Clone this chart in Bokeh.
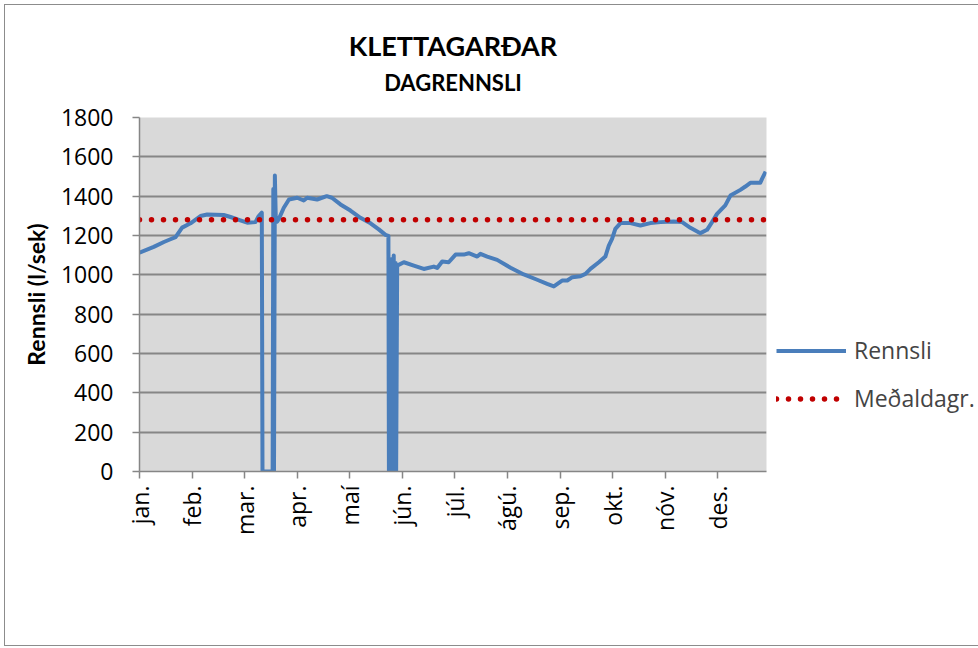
import math
from bokeh.plotting import figure
from bokeh.models import (ColumnDataSource, FixedTicker, Legend, LegendItem, Title)
from bokeh.embed import file_html
from bokeh.resources import INLINE

# ---- data ----
months = ["jan.", "feb.", "mar.", "apr.", "maí", "jún.", "júl.", "ágú.", "sep.", "okt.", "nóv.", "des."]
month_start_day = [0, 30.6, 61.2, 91.8, 122.4, 153.0, 183.6, 214.2, 244.8, 275.4, 306.0, 336.6]

day = [0, 8.3, 14.2, 18, 21, 24.8, 29.7, 35.5, 39.4, 49, 53, 58.7, 62.7, 67.5, 69.4, 71.2,
       71.6, 77.5, 77.9, 78.3, 78.8, 79.3, 80.1, 81, 84, 87, 91.8, 95.6, 97.6, 103.4, 109,
       112, 117, 122.8, 128.6, 134.5, 139.3, 143.2, 144.9, 145.2, 145.8, 146.3, 146.9,
       147.4, 148.0, 148.5, 149.1, 149.4, 150, 153.9, 159.7, 165.5, 171.3, 173.3, 176.2,
       180, 184, 188.8, 191.7, 196.6, 198.5, 202.4, 208.2, 216, 223.7, 231.5, 237.3, 241.2,
       246, 249, 252, 256.7, 259.6, 262.5, 267.4, 271.2, 273.2, 275.1, 277, 280, 285.8,
       291.6, 297.4, 303.3, 311, 315.9, 320.7, 326.5, 330.4, 333.3, 336.2, 341, 344, 349.8,
       352.7, 355.6, 361.4, 362.4, 364.5]
rennsli = [1113, 1142, 1167, 1181, 1192, 1240, 1262, 1299, 1307, 1304, 1294, 1277, 1265, 1268, 1299, 1316,
           0, 0, 1437, 0, 1505, 1300, 1270, 1282, 1341, 1383, 1392, 1378, 1392, 1383, 1400,
           1392, 1358, 1327, 1290, 1262, 1231, 1203, 1198, 0, 1050, 0, 1080,
           0, 1098, 0, 1060, 0, 1047, 1064, 1047, 1030, 1042, 1035, 1068,
           1064, 1103, 1103, 1110, 1093, 1107, 1093, 1076, 1036, 1002, 975, 954, 941,
           971, 971, 988, 993, 1005, 1030, 1064, 1093, 1149, 1183, 1234, 1263, 1263,
           1251, 1263, 1268, 1271, 1268, 1239, 1212, 1229, 1268, 1310, 1353, 1403, 1432,
           1449, 1468, 1468, 1488, 1525]
medaldagr = 1280
y_ticks = [0, 200, 400, 600, 800, 1000, 1200, 1400, 1600, 1800]

FONT = "Open Sans"
TFONT = "Lato"
GRAY = "#868686"

p = figure(frame_width=627, frame_height=354, output_backend="svg", toolbar_location=None,
           x_range=(0, 365), y_range=(0, 1800),
           min_border_left=134, min_border_right=209, min_border_top=112, min_border_bottom=174)
p.styles = {"border": "1px solid #8c8c8c", "margin": "4px"}
p.background_fill_color = "#D9D9D9"
p.border_fill_color = "white"
p.outline_line_color = None

src = ColumnDataSource(dict(day=day, rennsli=rennsli))
r1 = p.line("day", "rennsli", source=src, line_color="#4A7EBB", line_width=4, line_join="round")
mean_src = ColumnDataSource(dict(day=[0, 365], v=[medaldagr, medaldagr]))
r2 = p.line("day", "v", source=mean_src, line_color="#C00000", line_width=5.5,
            line_dash="0 12", line_cap="round")

# axes
p.xaxis.ticker = FixedTicker(ticks=month_start_day)
p.xaxis.major_label_overrides = {t: m for t, m in zip(month_start_day, months)}
p.xaxis.major_label_orientation = math.pi / 2
p.xaxis.minor_tick_line_color = None
p.xaxis.major_tick_out = 7
p.xaxis.major_tick_in = 0
p.xaxis.major_label_standoff = 7
p.yaxis.ticker = FixedTicker(ticks=y_ticks)
p.yaxis.minor_tick_line_color = None
p.yaxis.major_tick_out = 7
p.yaxis.major_tick_in = 0
p.yaxis.major_label_standoff = 19
for ax in (p.xaxis[0], p.yaxis[0]):
    ax.axis_line_color = GRAY
    ax.axis_line_width = 1.5
    ax.major_tick_line_color = GRAY
    ax.major_tick_line_width = 1.5
    ax.major_label_text_font = FONT
    ax.major_label_text_font_size = "23px"
    ax.major_label_text_color = "black"
p.yaxis.axis_label = "Rennsli (l/sek)"
p.yaxis.axis_label_text_font = TFONT
p.yaxis.axis_label_text_font_size = "23px"
p.yaxis.axis_label_text_font_style = "bold"
p.yaxis.axis_label_text_color = "black"
p.yaxis.axis_label_standoff = 8

p.xgrid.grid_line_color = None
p.ygrid.grid_line_color = GRAY
p.ygrid.grid_line_width = 2

# titles (first added sits closest to the frame); a blank spacer keeps the gap above the frame
p.add_layout(Title(text=" ", text_font_size="2px", standoff=16), "above")
p.add_layout(Title(text="DAGRENNSLI", align="center", text_font=TFONT, text_color="black",
                   text_font_size="22px", text_font_style="bold", standoff=4), "above")
p.add_layout(Title(text="KLETTAGARÐAR", align="center", text_font=TFONT, text_color="black",
                   text_font_size="27px", text_font_style="bold", standoff=5), "above")

legend = Legend(items=[LegendItem(label="Rennsli", renderers=[r1]),
                       LegendItem(label="Meðaldagr.", renderers=[r2])],
                location=(10, 57), padding=0, margin=0, spacing=16,
                glyph_width=70, glyph_height=31, label_height=31, label_standoff=8,
                label_text_font=FONT, label_text_font_size="23px",
                border_line_color=None, background_fill_alpha=0)
p.add_layout(legend, "right")

open("out.html", "w").write(file_html(p, INLINE))
